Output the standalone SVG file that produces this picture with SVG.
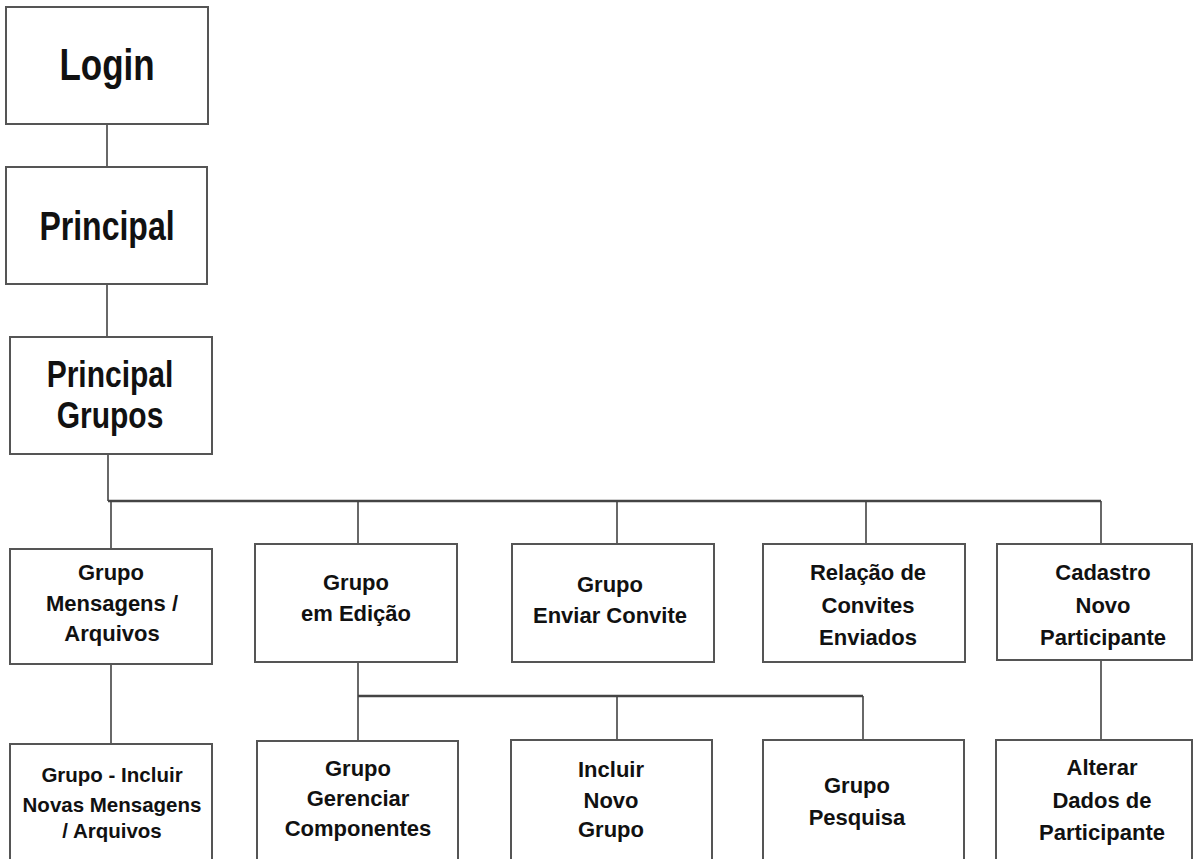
<svg xmlns="http://www.w3.org/2000/svg" width="1194" height="859" viewBox="0 0 1194 859">
<style>
.box{fill:#fff;stroke:#555;stroke-width:2}
.ln{fill:none;stroke:#444;stroke-width:1.6}
.bus{fill:none;stroke:#444;stroke-width:2.4}
.t{font-family:"Liberation Sans",Arial,sans-serif;font-weight:bold;fill:#111;text-anchor:middle}
.s{font-size:22px}
</style>
<rect width="1194" height="859" fill="#fff"/>
<g id="connectors">
<path class="ln" d="M107,124V167M107,284V337M108,454V501"/>
<path class="bus" d="M108,501H1101"/>
<path class="ln" d="M111,501V549M358,501V544M617,501V544M866,501V544M1101,501V544"/>
<path class="ln" d="M111,664V744M358,662V741M1101,660V740"/>
<path class="bus" d="M358,696H863"/>
<path class="ln" d="M617,696V740M863,696V740"/>
</g>
<g id="login"><rect class="box" x="6" y="7" width="202" height="117"/>
<text class="t" font-size="35" transform="translate(107,80) scale(1,1.25)">Login</text></g>
<g id="principal"><rect class="box" x="6" y="167" width="201" height="117"/>
<text class="t" font-size="32" transform="translate(107,240) scale(1,1.28)">Principal</text></g>
<g id="principal-grupos"><rect class="box" x="10" y="337" width="202" height="117"/>
<text class="t" font-size="30" transform="translate(110,387) scale(1,1.24)"><tspan x="0">Principal</tspan><tspan x="0" dy="33">Grupos</tspan></text></g>
<g id="grupo-mensagens"><rect class="box" x="10" y="549" width="202" height="115"/>
<text class="t s"><tspan x="111" y="580">Grupo</tspan><tspan x="112" y="611">Mensagens /</tspan><tspan x="112" y="641">Arquivos</tspan></text></g>
<g id="grupo-edicao"><rect class="box" x="255" y="544" width="202" height="118"/>
<text class="t s"><tspan x="356" y="590">Grupo</tspan><tspan x="356" y="621">em Edição</tspan></text></g>
<g id="grupo-convite"><rect class="box" x="512" y="544" width="202" height="118"/>
<text class="t s"><tspan x="610" y="592">Grupo</tspan><tspan x="610" y="623">Enviar Convite</tspan></text></g>
<g id="relacao-convites"><rect class="box" x="763" y="544" width="202" height="118"/>
<text class="t s"><tspan x="868" y="580">Relação de</tspan><tspan x="868" y="613">Convites</tspan><tspan x="868" y="645">Enviados</tspan></text></g>
<g id="cadastro"><rect class="box" x="997" y="544" width="195" height="116"/>
<text class="t s"><tspan x="1103" y="580">Cadastro</tspan><tspan x="1103" y="613">Novo</tspan><tspan x="1103" y="645">Participante</tspan></text></g>
<g id="grupo-incluir-msg"><rect class="box" x="10" y="744" width="202" height="120"/>
<text class="t" font-size="20.5"><tspan x="112" y="782">Grupo - Incluir</tspan><tspan x="112" y="812">Novas Mensagens</tspan><tspan x="112" y="838">/ Arquivos</tspan></text></g>
<g id="grupo-gerenciar"><rect class="box" x="257" y="741" width="201" height="120"/>
<text class="t s"><tspan x="358" y="776">Grupo</tspan><tspan x="358" y="806">Gerenciar</tspan><tspan x="358" y="836">Componentes</tspan></text></g>
<g id="incluir-grupo"><rect class="box" x="511" y="740" width="201" height="120"/>
<text class="t s"><tspan x="611" y="777">Incluir</tspan><tspan x="611" y="808">Novo</tspan><tspan x="611" y="837">Grupo</tspan></text></g>
<g id="grupo-pesquisa"><rect class="box" x="763" y="740" width="201" height="120"/>
<text class="t s"><tspan x="857" y="793">Grupo</tspan><tspan x="857" y="825">Pesquisa</tspan></text></g>
<g id="alterar"><rect class="box" x="996" y="740" width="196" height="120"/>
<text class="t s"><tspan x="1102" y="775">Alterar</tspan><tspan x="1102" y="808">Dados de</tspan><tspan x="1102" y="840">Participante</tspan></text></g>
</svg>
